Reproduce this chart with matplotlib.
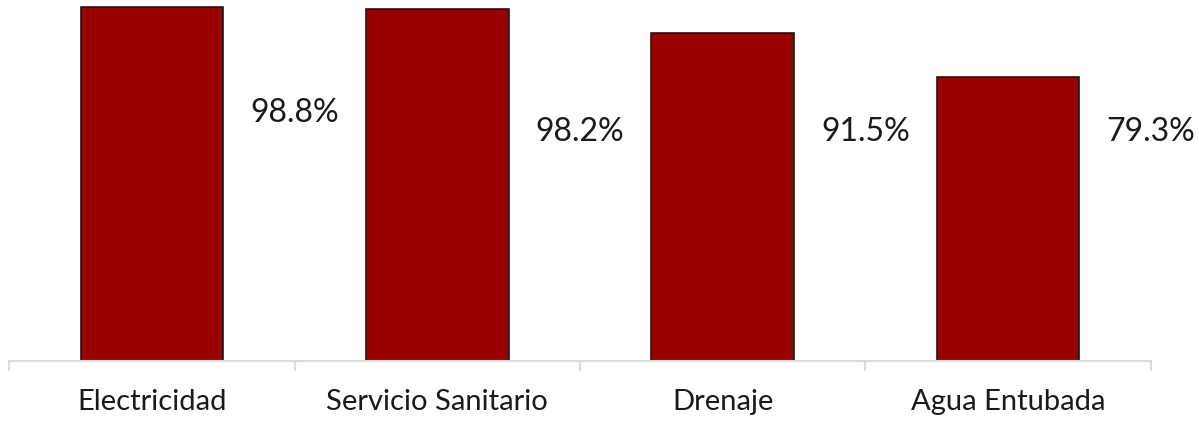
import numpy as np
import matplotlib
matplotlib.use('Agg')
import matplotlib.pyplot as plt

# datos del grafico
categorias = ['Electricidad', 'Servicio Sanitario', 'Drenaje', 'Agua Entubada']
porcentajes = [98.8, 98.2, 91.5, 79.3]
etiquetas = ['98.8%', '98.2%', '91.5%', '79.3%']

# altura (en unidades del eje) donde van las etiquetas, como en el original
altura_etiqueta = [69.3, 64.0, 64.0, 64.0]

plt.rcParams['font.family'] = ['Lato', 'DejaVu Sans']

fig = plt.figure(figsize=(11.99, 4.21), dpi=100)
ax = fig.add_axes([9.3 / 1199, 1 - 361 / 421, (1150.7 - 9.3) / 1199, 358 / 421])

x = np.arange(len(categorias))
ax.bar(x, porcentajes, width=0.5, color='#990000', edgecolor='#1a1a1a', linewidth=1.2, zorder=2)

for i, (v, txt) in enumerate(zip(porcentajes, etiquetas)):
    ax.text(i + 0.5, altura_etiqueta[i], txt, ha='center', va='center',
            fontsize=23, color='#1a1a1a')

ax.set_xlim(-0.5, len(categorias) - 0.5)
ax.set_ylim(0, 100)

# ejes
for s in ['top', 'right', 'left']:
    ax.spines[s].set_visible(False)
ax.spines['bottom'].set_color('#d9dde3')
ax.spines['bottom'].set_linewidth(1.5)
ax.spines['bottom'].set_zorder(3)
ax.set_yticks([])

ax.set_xticks(x)
ax.set_xticklabels(categorias, fontsize=21, color='#1a1a1a')
ax.tick_params(axis='x', which='major', length=0, pad=20)
ax.set_xticks(np.arange(len(categorias) + 1) - 0.5, minor=True)
ax.tick_params(axis='x', which='minor', length=7, width=1.5, color='#d9dde3')

fig.savefig('out.png', dpi=100)
